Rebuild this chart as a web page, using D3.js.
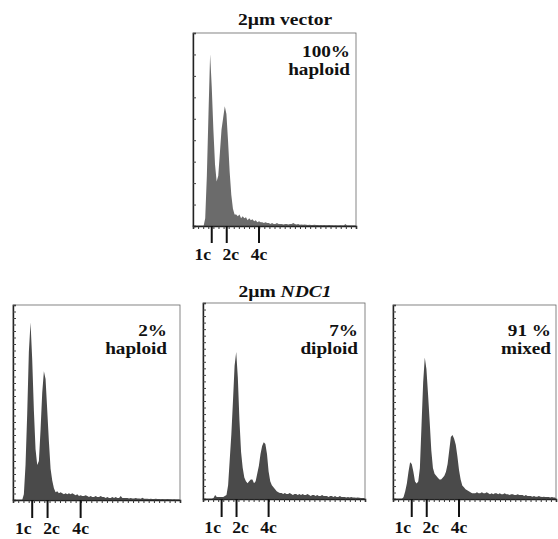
<!DOCTYPE html>
<html lang="en">
<head>
<meta charset="UTF-8">
<title>Flow cytometry DNA content</title>
<script src="https://d3js.org/d3.v7.min.js"></script>
<style>
    body { margin: 0; background: #fff; }
    svg { display: block; }
    .hist-label, .tick-label, .title {
        font-family: "Liberation Serif", "Times New Roman", serif;
        font-weight: bold;
        fill: #111;
    }
</style>
</head>
<body>
<svg id="chart" width="558" height="539"></svg>
<script>
    // histogram counts, bins of 10 channels (0..1000), as % of frame height
    const vectorCounts = [
        0, 0, 0, 0, 0, 0, 0, 4, 26, 58,
        89, 72, 50, 32, 23, 26, 38, 50, 56, 62,
        58, 44, 28, 16, 9, 6, 6, 5, 6, 4,
        5, 4, 4.5, 3, 4, 3, 3.5, 2.5, 3, 2,
        2.5, 2, 2, 1.5, 2, 1.5, 1.5, 1, 1.5, 1,
        1, 1.5, 1, 1, 1, 0.8, 1, 1, 0.8, 1,
        1, 1.5, 1, 0.8, 1, 0.6, 0.8, 0.6, 0.8, 0.6,
        0.5, 0.6, 0.5, 0.5, 0.6, 0.5, 0.5, 0.4, 0.5, 0.4,
        0.5, 0.4, 0.4, 0.5, 0.4, 0.4, 0.3, 0.4, 0.3, 0.3,
        0.4, 0.3, 0.3, 1, 0.3, 0.3, 0.3, 0.2, 0.2, 0.2
    ];
    const ndc1HaploidCounts = [
        0, 0, 0, 0, 0, 0, 3, 18, 44, 76,
        91, 72, 46, 26, 18, 20, 36, 55, 66, 62,
        46, 30, 16, 10, 6, 4, 4.5, 3.5, 4, 3.5,
        3, 3.5, 3, 3.5, 3, 3.5, 3, 2.5, 3, 2,
        2.5, 2, 2, 2.5, 2, 1.5, 2, 1.5, 1.5, 2,
        1.5, 1.5, 2, 1.5, 1.5, 1, 1.5, 1, 1, 1.5,
        1, 1.5, 1, 1, 2, 1, 1, 1, 1, 0.8,
        1, 0.8, 0.8, 1, 0.8, 0.8, 0.6, 1.2, 0.6, 0.6,
        0.6, 0.5, 0.6, 0.5, 0.5, 0.6, 0.5, 0.5, 0.4, 0.5,
        0.4, 0.4, 0.5, 0.4, 0.4, 0.3, 0.4, 0.3, 0.3, 0.3
    ];
    const ndc1DiploidCounts = [
        0, 0, 0, 0, 0, 0, 0.5, 2, 1, 1,
        1, 1, 1, 1.5, 2, 7, 20, 33, 50, 68,
        75, 62, 40, 24, 16, 11, 9, 8, 9, 10,
        10, 8, 9, 13, 17, 23, 27, 29, 28, 23,
        14, 9, 7, 6, 5, 4, 3.5, 3, 3, 2.5,
        3, 2.5, 2.5, 3, 2.5, 2, 2.5, 2.5, 2, 2.5,
        2, 2.5, 2, 2, 2.5, 2, 1.5, 2, 2, 1.5,
        2, 1.5, 1.5, 2, 1.5, 1.5, 1.5, 1, 1.5, 1.5,
        1, 1.5, 1, 1, 1.5, 1, 1, 1, 0.8, 1,
        0.8, 1, 0.8, 0.8, 0.6, 0.8, 0.6, 0.5, 0.5, 0.5
    ];
    const ndc1MixedCounts = [
        0, 0, 0, 0, 0, 0, 1, 4, 8, 14,
        19, 18, 14, 9, 8, 9, 16, 38, 60, 73,
        67, 54, 40, 25, 16, 13, 12, 11, 10, 10,
        11, 12, 14, 18, 25, 32, 33, 31, 28, 22,
        15, 10, 7, 6, 5, 4.5, 4, 3.5, 3, 3,
        3, 3.5, 3, 3, 3.5, 3, 3, 3.5, 3, 2.5,
        3, 2.5, 3, 3, 2.5, 3, 2.5, 2.5, 3, 2.5,
        2.5, 2, 2.5, 2.5, 2, 2, 2.5, 2, 2, 2,
        1.5, 2, 1.5, 1.5, 1.5, 1.2, 1.5, 1.2, 1.2, 1.5,
        1.2, 1, 1.2, 1, 1, 1, 0.8, 1, 0.8, 0.8
    ];

    const ploidyLabels = ["1c", "2c", "4c"];
    const ploidyChannels = [115, 207, 405];
    const percentLabels = ["100%", "2%", "7%", "91 %"];
    const phenotypeLabels = ["haploid", "haploid", "diploid", "mixed"];
    const binWidth = 10;

    // label nudges so 1c and 2c don't collide
    const labelShift = [-9, 4, 0];

    // frame geometry for each panel
    const panels = [
        {counts: vectorCounts,      x: 193, y: 33,  w: 163, h: 193, fill: "#6b6b6b", yTicks: 9,  inset: 6,  textY: 57,  tickLen: 17, labelY: 260},
        {counts: ndc1HaploidCounts, x: 13,  y: 305, w: 167, h: 195, fill: "#4a4a4a", yTicks: 30, inset: 13, textY: 336, tickLen: 18, labelY: 534},
        {counts: ndc1DiploidCounts, x: 203, y: 303, w: 162, h: 196, fill: "#4a4a4a", yTicks: 30, inset: 7,  textY: 336, tickLen: 18, labelY: 533},
        {counts: ndc1MixedCounts,   x: 393, y: 305, w: 163, h: 194, fill: "#4a4a4a", yTicks: 30, inset: 5,  textY: 336, tickLen: 18, labelY: 533}
    ];

    const svg = d3.select("#chart");

    panels.forEach((p, k) => {
        const g = svg.append("g").attr("transform", `translate(${p.x},${p.y})`);
        const x = d3.scaleLinear().domain([0, 1000]).range([0, p.w]);
        const y = d3.scaleLinear().domain([0, 100]).range([p.h, 0]);

        const pts = [[0, 0]].concat(p.counts.map((c, i) => [i * binWidth + binWidth / 2, c]), [[1000, 0]]);
        const area = d3.area()
            .x(d => x(d[0]))
            .y0(y(0))
            .y1(d => y(d[1]));

        g.append("path")
            .datum(pts)
            .attr("d", area)
            .attr("fill", p.fill);

        // frame
        g.append("rect")
            .attr("width", p.w).attr("height", p.h)
            .attr("fill", "none").attr("stroke", "#666").attr("stroke-width", 0.8);

        // minor ticks
        g.append("g")
            .call(d3.axisRight(y).tickValues(d3.range(0, 100.01, 100 / p.yTicks)).tickSize(3).tickFormat(""))
            .call(a => a.select(".domain").attr("stroke", "#222").attr("stroke-width", 1.4))
            .selectAll(".tick line").attr("stroke", "#444");

        g.append("g")
            .attr("transform", `translate(0,${p.h})`)
            .call(d3.axisBottom(x).tickValues(d3.range(0, 1000.1, 1000 / 32)).tickSize(3).tickFormat(""))
            .call(a => a.select(".domain").attr("stroke", "#222").attr("stroke-width", 1.6))
            .selectAll(".tick line").attr("stroke", "#333");

        // ploidy markers
        const marks = g.append("g").attr("transform", `translate(0,${p.h})`);
        marks.selectAll("line")
            .data(ploidyChannels)
            .join("line")
            .attr("x1", d => x(d)).attr("x2", d => x(d))
            .attr("y1", 0).attr("y2", p.tickLen)
            .attr("stroke", "#111").attr("stroke-width", 2);

        svg.append("g").selectAll("text")
            .data(ploidyLabels)
            .join("text")
            .attr("class", "tick-label")
            .attr("transform", (d, i) => `translate(${p.x + x(ploidyChannels[i]) + labelShift[i]},${p.labelY}) scale(1.1,1)`)
            .attr("text-anchor", "middle")
            .attr("font-size", 16)
            .text(d => d);

        // percent and phenotype
        const tx = p.x + p.w - p.inset;
        svg.append("text")
            .attr("class", "hist-label")
            .attr("transform", `translate(${tx},${p.textY}) scale(1.2,1)`)
            .attr("text-anchor", "end")
            .attr("font-size", 16)
            .text(percentLabels[k]);
        svg.append("text")
            .attr("class", "hist-label")
            .attr("transform", `translate(${tx},${p.textY + 18}) scale(1.2,1)`)
            .attr("text-anchor", "end")
            .attr("font-size", 16)
            .text(phenotypeLabels[k]);
    });

    svg.append("text")
        .attr("class", "title")
        .attr("transform", "translate(285,25) scale(1.15,1)")
        .attr("text-anchor", "middle")
        .attr("font-size", 17)
        .text("2µm vector");

    const t2 = svg.append("text")
        .attr("class", "title")
        .attr("transform", "translate(285,297) scale(1.15,1)")
        .attr("text-anchor", "middle")
        .attr("font-size", 17);
    t2.append("tspan").text("2µm ");
    t2.append("tspan").attr("font-style", "italic").text("NDC1");
</script>
</body>
</html>
